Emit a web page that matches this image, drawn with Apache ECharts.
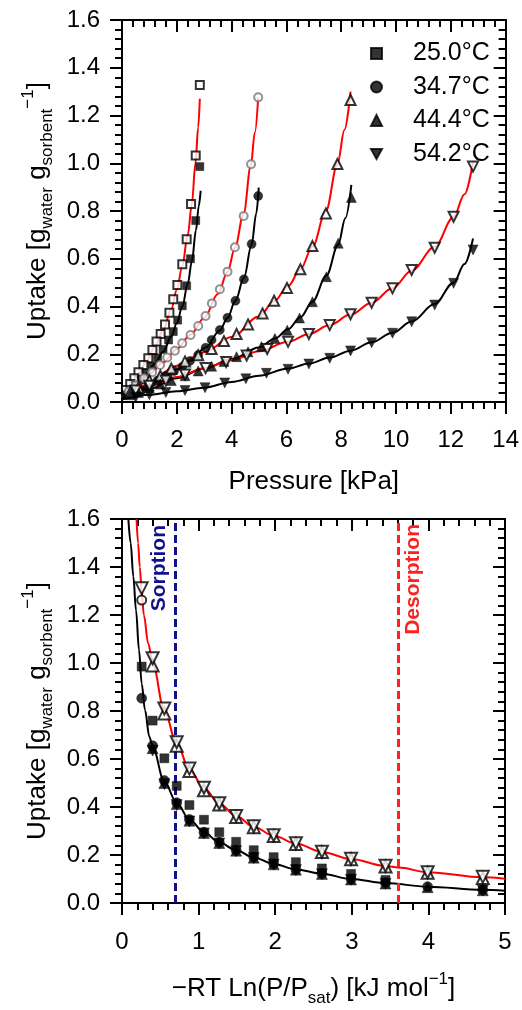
<!DOCTYPE html>
<html>
<head>
<meta charset="utf-8">
<script src="https://cdn.jsdelivr.net/npm/echarts@6/dist/echarts.min.js"></script>
<style>html,body{margin:0;padding:0;background:#fff;}#c{width:522px;height:1010px;}</style>
</head>
<body>
<div id="c"></div>
<script>
// ---------- Top panel: uptake vs pressure ----------
const legendNames = ['25.0°C', '34.7°C', '44.4°C', '54.2°C'];
const pTicks = [0, 2, 4, 6, 8, 10, 12, 14];
const uTicks = [0.0, 0.2, 0.4, 0.6, 0.8, 1.0, 1.2, 1.4, 1.6];
const aTicks = [0, 1, 2, 3, 4, 5];

const open25 = [[2.84,1.328],[2.69,1.032],[2.52,0.829],[2.36,0.682],[2.2,0.577],[2.02,0.49],[1.87,0.43],[1.73,0.374],[1.57,0.325],[1.41,0.285],[1.26,0.253],[1.11,0.218],[0.96,0.183],[0.78,0.155],[0.6,0.125],[0.45,0.1],[0.3,0.075],[0.15,0.05]];
const fill25 = [[2.84,0.986],[2.69,0.76],[2.5,0.6],[2.36,0.487],[2.2,0.403],[2.03,0.343],[1.87,0.295],[1.7,0.26],[1.5,0.22],[1.3,0.185],[1.1,0.15],[0.9,0.12],[0.7,0.095],[0.5,0.07],[0.3,0.05],[0.15,0.03]];
const open34 = [[4.97,1.276],[4.71,0.996],[4.44,0.779],[4.12,0.648],[3.85,0.546],[3.57,0.472],[3.28,0.413],[3.05,0.36],[2.78,0.318],[2.5,0.281],[2.2,0.246],[1.93,0.215],[1.65,0.186],[1.39,0.155],[1.1,0.125],[0.8,0.1],[0.5,0.07],[0.25,0.045]];
const fill34 = [[4.97,0.863],[4.73,0.662],[4.45,0.514],[4.14,0.424],[3.85,0.353],[3.57,0.302],[3.27,0.26],[3.05,0.227],[2.78,0.197],[2.48,0.172],[2.2,0.148],[1.9,0.13],[1.6,0.11],[1.3,0.09],[1.0,0.07],[0.7,0.05],[0.4,0.035]];
const open44 = [[8.34,1.265],[7.86,0.997],[7.44,0.79],[6.95,0.653],[6.51,0.556],[6.02,0.478],[5.55,0.424],[5.13,0.371],[4.6,0.325],[4.18,0.285],[3.72,0.255],[3.27,0.222],[2.78,0.196],[2.3,0.17],[1.8,0.14],[1.4,0.11],[1.0,0.09],[0.6,0.06],[0.3,0.04]];
const fill44 = [[8.37,0.857],[7.89,0.665],[7.46,0.525],[6.95,0.42],[6.48,0.352],[6.03,0.301],[5.58,0.266],[5.09,0.232],[4.6,0.21],[4.18,0.19],[3.72,0.17],[3.27,0.15],[2.78,0.13],[2.3,0.11],[1.8,0.09],[1.4,0.075],[1.0,0.06],[0.6,0.04],[0.3,0.03]];
const open54 = [[12.81,0.986],[12.1,0.776],[11.41,0.646],[10.57,0.553],[9.87,0.476],[9.11,0.416],[8.34,0.368],[7.58,0.322],[6.82,0.285],[6.06,0.252],[5.3,0.222],[4.55,0.195],[3.8,0.168],[3.05,0.142],[2.3,0.115],[1.6,0.09],[1.0,0.068],[0.5,0.048]];
const fill54 = [[12.81,0.637],[12.1,0.497],[11.41,0.406],[10.57,0.336],[9.87,0.288],[9.11,0.248],[8.34,0.214],[7.58,0.183],[6.82,0.159],[6.06,0.137],[5.27,0.12],[4.52,0.097],[3.75,0.08],[3.03,0.06],[2.3,0.048],[1.6,0.04],[1.0,0.03],[0.5,0.02]];

const fit25r = [[0,0.02],[0.3,0.065],[0.6,0.118],[0.9,0.172],[1.2,0.232],[1.5,0.302],[1.8,0.39],[2.0,0.47],[2.2,0.57],[2.4,0.7],[2.55,0.83],[2.68,1.0],[2.78,1.15],[2.84,1.27]];
const fit25b = [[0,0.01],[0.3,0.04],[0.6,0.078],[0.9,0.118],[1.2,0.16],[1.5,0.21],[1.8,0.275],[2.0,0.33],[2.2,0.4],[2.4,0.495],[2.55,0.59],[2.7,0.72],[2.8,0.82],[2.87,0.885]];
const fit34r = [[0,0.02],[0.5,0.068],[1.0,0.115],[1.5,0.166],[2.0,0.222],[2.5,0.282],[3.0,0.352],[3.5,0.452],[3.85,0.545],[4.12,0.645],[4.44,0.79],[4.7,0.99],[4.85,1.13],[4.97,1.276]];
const fit34b = [[0,0.01],[0.5,0.04],[1.0,0.07],[1.5,0.1],[2.0,0.136],[2.5,0.173],[3.05,0.228],[3.57,0.3],[3.85,0.352],[4.14,0.425],[4.45,0.52],[4.73,0.66],[4.9,0.79],[4.99,0.898]];
const fit44r = [[0,0.02],[1,0.085],[2,0.152],[3,0.208],[4,0.272],[5,0.358],[5.55,0.422],[6.06,0.485],[6.51,0.556],[6.95,0.65],[7.44,0.8],[7.86,0.995],[8.12,1.14],[8.34,1.3]];
const fit44b = [[0,0.01],[1,0.055],[2,0.1],[3,0.14],[4,0.18],[5,0.228],[5.58,0.266],[6.06,0.305],[6.51,0.355],[6.95,0.42],[7.46,0.53],[7.89,0.66],[8.15,0.77],[8.37,0.909]];
const fit54r = [[0,0.03],[1,0.068],[2,0.105],[3,0.141],[4,0.176],[5,0.213],[6.06,0.252],[6.82,0.285],[7.58,0.322],[8.34,0.366],[9.11,0.416],[9.87,0.476],[10.57,0.55],[11.41,0.65],[12.1,0.775],[12.5,0.87],[12.81,1.006]];
const fit54b = [[0,0.01],[1,0.03],[2,0.045],[3,0.06],[4,0.084],[5,0.11],[6.06,0.14],[6.82,0.161],[7.58,0.186],[8.34,0.215],[9.11,0.25],[9.87,0.29],[10.57,0.337],[11.41,0.41],[12.1,0.5],[12.5,0.578],[12.81,0.685]];

// ---------- Bottom panel: characteristic curve ----------
const bOpen54 = [[0.257,1.311],[0.40,1.02],[0.553,0.81],[0.714,0.67],[0.88,0.56],[1.07,0.48],[1.27,0.416],[1.49,0.363],[1.72,0.32],[1.98,0.282],[2.27,0.249],[2.61,0.214],[2.99,0.184],[3.44,0.155],[3.99,0.128],[4.71,0.109]];
const bOpen44 = [[0.40,0.99],[0.553,0.79],[0.714,0.655],[0.88,0.55],[1.07,0.47],[1.27,0.41],[1.49,0.358],[1.72,0.316],[1.98,0.279],[2.27,0.246],[2.61,0.212],[2.99,0.182],[3.44,0.152],[3.99,0.126],[4.71,0.104]];
const bOpen34 = [[0.257,1.262]];
const bFill25 = [[0.257,0.985],[0.40,0.76],[0.553,0.603],[0.714,0.488],[0.88,0.408],[1.07,0.347],[1.27,0.295],[1.49,0.255],[1.72,0.22],[1.98,0.191],[2.27,0.17],[2.61,0.144],[2.99,0.121],[3.44,0.096]];
const bFill34 = [[0.257,0.853],[0.40,0.655],[0.553,0.51],[0.714,0.418],[0.88,0.348],[1.07,0.295],[1.27,0.253],[1.49,0.22],[1.72,0.191],[1.98,0.163],[2.27,0.14],[2.61,0.123],[2.99,0.1],[3.44,0.083],[3.99,0.068],[4.71,0.055]];
const bFill44 = [[0.40,0.645],[0.553,0.5],[0.714,0.412],[0.88,0.343],[1.07,0.292],[1.27,0.25],[1.49,0.218],[1.72,0.189],[1.98,0.161],[2.27,0.139],[2.61,0.121],[2.99,0.098],[3.44,0.081],[3.99,0.066],[4.71,0.053]];
const bFill54 = [[0.40,0.635],[0.553,0.495],[0.714,0.408],[0.88,0.34],[1.07,0.29],[1.27,0.248],[1.49,0.216],[1.72,0.187],[1.98,0.16],[2.27,0.137],[2.61,0.12],[2.99,0.097],[3.44,0.08],[4.71,0.052]];
const bFitR = [[0.19,1.6],[0.21,1.5],[0.232,1.4],[0.257,1.3],[0.285,1.2],[0.343,1.08],[0.40,1.0],[0.553,0.8],[0.714,0.665],[0.88,0.557],[1.07,0.478],[1.27,0.415],[1.49,0.362],[1.72,0.318],[1.98,0.28],[2.27,0.248],[2.61,0.213],[2.99,0.183],[3.44,0.154],[3.61,0.148],[3.99,0.128],[4.71,0.107],[5.0,0.101]];
const bFitB = [[0.083,1.6],[0.113,1.5],[0.148,1.36],[0.183,1.22],[0.222,1.054],[0.257,0.915],[0.30,0.804],[0.357,0.693],[0.40,0.65],[0.553,0.505],[0.714,0.418],[0.88,0.348],[1.07,0.295],[1.27,0.252],[1.49,0.22],[1.72,0.19],[1.98,0.163],[2.27,0.14],[2.61,0.122],[2.99,0.1],[3.44,0.083],[3.99,0.068],[4.71,0.055],[5.0,0.051]];
const sorptionX = 0.70;
const desorptionX = 3.60;

const FONT = '"Liberation Sans", Arial, sans-serif';
const DOWN = 'path://M0,0L10,0L5,9Z';
const TICKSTYLE = {color: '#000', width: 2};

function axis(grid, max, interval, pos, inside, opts) {
  return Object.assign({
    type: 'value', gridIndex: grid, min: 0, max: max, interval: interval, position: pos,
    splitLine: {show: false},
    axisLine: {show: true, onZero: false, lineStyle: {color: '#000', width: 2}},
    axisTick: {show: true, inside: inside, length: 12, lineStyle: TICKSTYLE},
    minorTick: {show: true, splitNumber: 5, length: 7, lineStyle: {color: '#000', width: 2}},
    axisLabel: {show: false}
  }, opts || {});
}
const richBase = {
  m: {fontFamily: FONT, fontSize: 26, lineHeight: 36, verticalAlign: 'middle', color: '#000'},
  s: {fontFamily: FONT, fontSize: 17, lineHeight: 17, verticalAlign: 'bottom', color: '#000'},
  p: {fontFamily: FONT, fontSize: 17, lineHeight: 20, verticalAlign: 'top', color: '#000'}
};
const yNameText = '{m|Uptake [g}{s|water}{m| g}{s|sorbent}{p|−1}{m|]}';
const pNameText = '{m|Pressure [kPa]}';
const aNameText = '{m|−RT Ln(P/P}{s|sat}{m|) [kJ mol}{p|−1}{m|]}';

function xMain(grid, max, interval, name, gap, margin) {
  return axis(grid, max, interval, 'bottom', false, {
    axisLabel: {show: true, fontFamily: FONT, fontSize: 24, color: '#000', margin: margin},
    name: name, nameLocation: 'middle', nameGap: gap,
    nameTextStyle: {fontFamily: FONT, color: '#000', rich: richBase}
  });
}
function yMain(grid) {
  return axis(grid, 1.6, 0.2, 'left', false, {
    axisLabel: {show: true, fontFamily: FONT, fontSize: 24, color: '#000', margin: 22,
      formatter: v => v.toFixed(1)},
    name: yNameText, nameLocation: 'middle', nameGap: 66, nameRotate: 90,
    nameTextStyle: {fontFamily: FONT, color: '#000', rich: richBase}
  });
}

const xAxes = [
  xMain(0, 14, 2, pNameText, 62, 26),
  axis(0, 14, 2, 'top', true),
  xMain(1, 5, 1, aNameText, 68, 27),
  axis(1, 5, 1, 'top', true)
];
const yAxes = [
  yMain(0),
  axis(0, 1.6, 0.2, 'right', true),
  yMain(1),
  axis(1, 1.6, 0.2, 'right', true)
];

function scatter(name, data, xi, yi, symbol, size, filled, border) {
  return {
    type: 'scatter', name: name, data: data, xAxisIndex: xi, yAxisIndex: yi,
    symbol: symbol, symbolSize: size, z: 5,
    itemStyle: filled ? {color: '#000', borderColor: '#000', borderWidth: 0.5}
                      : {color: '#fff', borderColor: border || '#000', borderWidth: 2}
  };
}
function fit(data, xi, yi, color) {
  return {
    type: 'line', data: data, xAxisIndex: xi, yAxisIndex: yi, showSymbol: false,
    smooth: 0.35, smoothMonotone: 'x', z: 3,
    lineStyle: {color: color, width: 2}
  };
}

const series = [
  fit(fit25r, 0, 0, '#ff0000'), fit(fit25b, 0, 0, '#000'),
  fit(fit34r, 0, 0, '#ff0000'), fit(fit34b, 0, 0, '#000'),
  fit(fit44r, 0, 0, '#ff0000'), fit(fit44b, 0, 0, '#000'),
  fit(fit54r, 0, 0, '#ff0000'), fit(fit54b, 0, 0, '#000'),
  scatter('25o', open25, 0, 0, 'rect', 8, false),
  scatter(legendNames[0], fill25, 0, 0, 'rect', 8, true),
  scatter('34o', open34, 0, 0, 'circle', 8, false, '#777777'),
  scatter(legendNames[1], fill34, 0, 0, 'circle', 9, true),
  scatter('44o', open44, 0, 0, 'triangle', 10, false),
  scatter(legendNames[2], fill44, 0, 0, 'triangle', 10, true),
  scatter('54o', open54, 0, 0, DOWN, 10, false),
  scatter(legendNames[3], fill54, 0, 0, DOWN, 10, true),

  Object.assign(fit(bFitR, 2, 2, '#ff0000'), {
    markLine: {
      silent: true, symbol: 'none', animation: false,
      data: [
        {xAxis: sorptionX, lineStyle: {color: '#10108a', width: 3, type: [8, 4]},
         label: {show: true, formatter: 'Sorption', position: 'insideEndTop', distance: 6,
                 color: '#10108a', fontFamily: FONT, fontWeight: 'bold', fontSize: 21}},
        {xAxis: desorptionX, lineStyle: {color: '#ff2020', width: 3, type: [8, 4]},
         label: {show: true, formatter: 'Desorption', position: 'insideEndBottom', distance: 5,
                 color: '#ff2020', fontFamily: FONT, fontWeight: 'bold', fontSize: 21}}
      ]
    }
  }),
  fit(bFitB, 2, 2, '#000'),
  scatter('b25f', bFill25, 2, 2, 'rect', 9, true),
  scatter('b34f', bFill34, 2, 2, 'circle', 10, true),
  scatter('b44f', bFill44, 2, 2, 'triangle', 11, true),
  scatter('b54f', bFill54, 2, 2, DOWN, 11, true),
  scatter('b34o', bOpen34, 2, 2, 'circle', 9, false),
  scatter('b44o', bOpen44, 2, 2, 'triangle', 12, false),
  scatter('b54o', bOpen54, 2, 2, DOWN, 12, false)
];

const chart = echarts.init(document.getElementById('c'), null, {renderer: 'canvas'});
chart.setOption({
  animation: false,
  backgroundColor: '#fff',
  grid: [
    {left: 122, right: 16, top: 20, height: 382},
    {left: 122, right: 17, top: 519, height: 384}
  ],
  legend: {
    data: legendNames, orient: 'vertical', left: 365, top: 36,
    itemWidth: 11, itemHeight: 11, itemGap: 8.5, selectedMode: false,
    textStyle: {fontFamily: FONT, fontSize: 25, color: '#000', lineHeight: 24, padding: [0, 0, 0, 26]}
  },
  xAxis: xAxes,
  yAxis: yAxes,
  series: series
});
</script>
</body>
</html>
